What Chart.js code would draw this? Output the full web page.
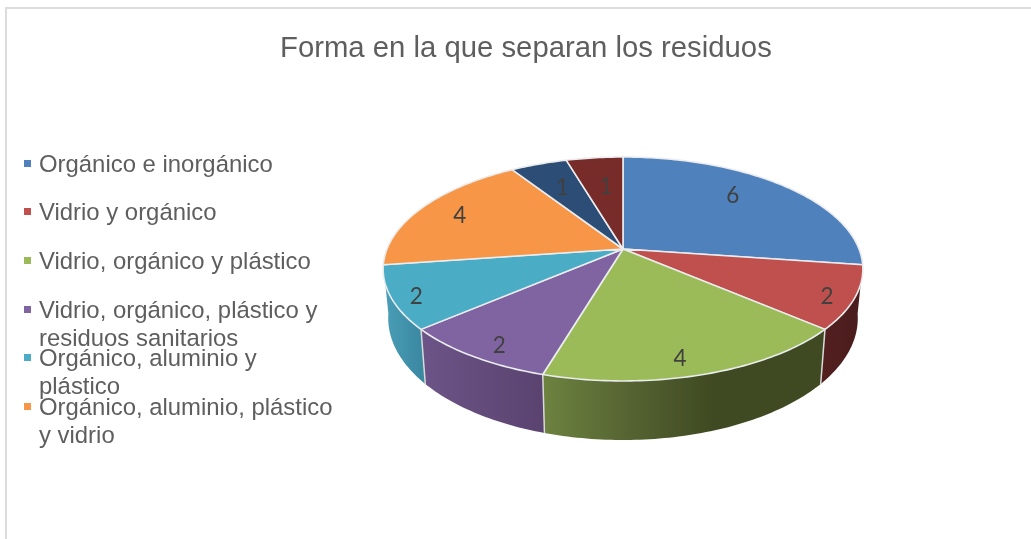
<!DOCTYPE html>
<html lang="es">
<head>
<meta charset="utf-8">
<title>Forma en la que separan los residuos</title>
<script src="https://cdn.jsdelivr.net/npm/chart.js@4"></script>
<style>
    html, body { margin: 0; padding: 0; background: #fff; }
    #wrap { position: relative; width: 1031px; height: 539px; overflow: hidden; }
    #frame {
        position: absolute; left: 5px; top: 7px; right: -5px; bottom: -5px;
        border-left: 2px solid #dcdcdc; border-top: 2px solid #dcdcdc;
    }
    #chart { position: absolute; left: 0; top: 0; }
    .legend-item {
        position: absolute; left: 39px; width: 300px;
        font: 23.9px/28px "Liberation Sans", Arial, sans-serif; color: #5e5e5e;
    }
    .legend-item i { position: absolute; left: -15px; top: 10px; width: 7px; height: 7px; }
</style>
</head>
<body>
<div id="wrap">
    <div id="frame"></div>
    <canvas id="chart" width="1031" height="539"></canvas>
    <div id="legend"></div>
</div>
<script>
const chartTitle = "Forma en la que separan los residuos";

// Only the first six categories fit in the legend box
const categories = [
    "Orgánico e inorgánico",
    "Vidrio y orgánico",
    "Vidrio, orgánico y plástico",
    "Vidrio, orgánico, plástico y residuos sanitarios",
    "Orgánico, aluminio y plástico",
    "Orgánico, aluminio, plástico y vidrio"
];
const values = [6, 2, 4, 2, 2, 4, 1, 1];

const sliceColors = ["#4f81bd", "#c0504d", "#9bbb59", "#8064a2", "#4bacc6", "#f79646", "#2c4d75", "#772c2a"];

// Side wall shading, left to right across each wall
const wallShades = [
    null,
    [[0, "#521f1f"], [1, "#4a1c1c"]],
    [[0, "#6d8340"], [0.3, "#566432"], [0.6, "#3f4a22"], [1, "#3f4a22"]],
    [[0, "#6c5488"], [1, "#5a436f"]],
    [[0, "#4a9fb8"], [1, "#3b88a1"]],
    null, null, null
];

// Where each number sits on its slice: fraction of the radius, turn from mid-angle in degrees
const labelRadius = [0.74, 0.90, 0.88, 0.89, 0.91, 0.80, 0.69, 0.65];
const labelTurn = [-5.5, 2.5, 2.9, -2.2, -2.3, -0.7, 0, 1];

// Perspective of the tilted disc: top face and the smaller, lower bottom rim
const tilt = 0.1786;
const topRim = { rx: 236, ry: 108.4, drop: 0 };
const bottomRim = { rx: 231, ry: 117.8, drop: 47.6 };

function project(el, angle, rim, radius = 1) {
    const ux = Math.cos(angle) * radius;
    const uy = Math.sin(angle) * radius;
    const w = 1 - tilt * uy;
    return { x: el.x + rim.rx * ux / w, y: el.y + rim.drop + rim.ry * uy / w };
}

function traceRim(ctx, el, from, to, rim) {
    const steps = Math.max(2, Math.ceil(Math.abs(to - from) / (Math.PI / 180)));
    for (let i = 0; i <= steps; i++) {
        const p = project(el, from + (to - from) * i / steps, rim);
        ctx.lineTo(p.x, p.y);
    }
}

function drawWall(ctx, el, shades) {
    const a = project(el, el.startAngle, topRim);
    const b = project(el, el.endAngle, topRim);
    const fill = ctx.createLinearGradient(Math.min(a.x, b.x), 0, Math.max(a.x, b.x), 0);
    shades.forEach(([stop, color]) => fill.addColorStop(stop, color));

    ctx.beginPath();
    traceRim(ctx, el, el.startAngle, el.endAngle, topRim);
    traceRim(ctx, el, el.endAngle, el.startAngle, bottomRim);
    ctx.closePath();
    ctx.fillStyle = fill;
    ctx.fill();
}

function drawWallEdge(ctx, el, angle) {
    const a = project(el, angle, topRim);
    const b = project(el, angle, bottomRim);
    ctx.beginPath();
    ctx.moveTo(a.x, a.y);
    ctx.lineTo(b.x, b.y);
    ctx.strokeStyle = "#d9d9d9";
    ctx.lineWidth = 1.5;
    ctx.stroke();
}

function drawTopFace(ctx, el, color) {
    ctx.beginPath();
    ctx.moveTo(el.x, el.y);
    traceRim(ctx, el, el.startAngle, el.endAngle, topRim);
    ctx.closePath();
    ctx.fillStyle = color;
    ctx.fill();
    ctx.strokeStyle = "#eaecee";
    ctx.lineWidth = 1.6;
    ctx.lineJoin = "round";
    ctx.stroke();
}

// Replaces the flat arcs with the extruded disc, using the angles Chart.js worked out
const discPlugin = {
    id: "disc",
    beforeDatasetDraw(chart) {
        const ctx = chart.ctx;
        const arcs = chart.getDatasetMeta(0).data;
        ctx.save();
        arcs.forEach((el, i) => {
            if (wallShades[i]) drawWall(ctx, el, wallShades[i]);
        });
        arcs.forEach((el, i) => {
            if (wallShades[i] && i > 0 && wallShades[i - 1]) drawWallEdge(ctx, el, el.startAngle);
        });
        arcs.forEach((el, i) => drawTopFace(ctx, el, sliceColors[i]));
        ctx.restore();
        return false;
    },
    afterDatasetsDraw(chart) {
        const ctx = chart.ctx;
        ctx.save();
        ctx.font = '22.5px Lato, "Open Sans", sans-serif';
        ctx.fillStyle = "#404040";
        ctx.textAlign = "center";
        ctx.textBaseline = "middle";
        chart.getDatasetMeta(0).data.forEach((el, i) => {
            const mid = (el.startAngle + el.endAngle) / 2 + labelTurn[i] * Math.PI / 180;
            const p = project(el, mid, topRim, labelRadius[i]);
            ctx.fillText(values[i], p.x, p.y);
        });
        ctx.restore();
    }
};

new Chart(document.getElementById("chart"), {
    type: "pie",
    data: {
        labels: categories,
        datasets: [{ data: values, backgroundColor: sliceColors }]
    },
    options: {
        responsive: false,
        animation: false,
        layout: { padding: { left: 280, right: 65, top: 0, bottom: 114.2 } },
        plugins: {
            legend: { display: false },
            tooltip: { enabled: false },
            title: {
                display: true,
                text: chartTitle,
                align: "start",
                color: "#5e5e5e",
                font: { family: '"Liberation Sans", Arial, sans-serif', size: 29.3, weight: "normal" },
                padding: { top: 31, bottom: 7 }
            }
        }
    },
    plugins: [discPlugin]
});

// Legend list sits left of the disc, with tight spacing so long entries run together
const legendBox = document.getElementById("legend");
categories.forEach((name, i) => {
    const item = document.createElement("div");
    item.className = "legend-item";
    item.style.top = (149.7 + 48.6 * i) + "px";
    item.innerHTML = `<i style="background:${sliceColors[i]}"></i>${name}`;
    legendBox.appendChild(item);
});
</script>
</body>
</html>
